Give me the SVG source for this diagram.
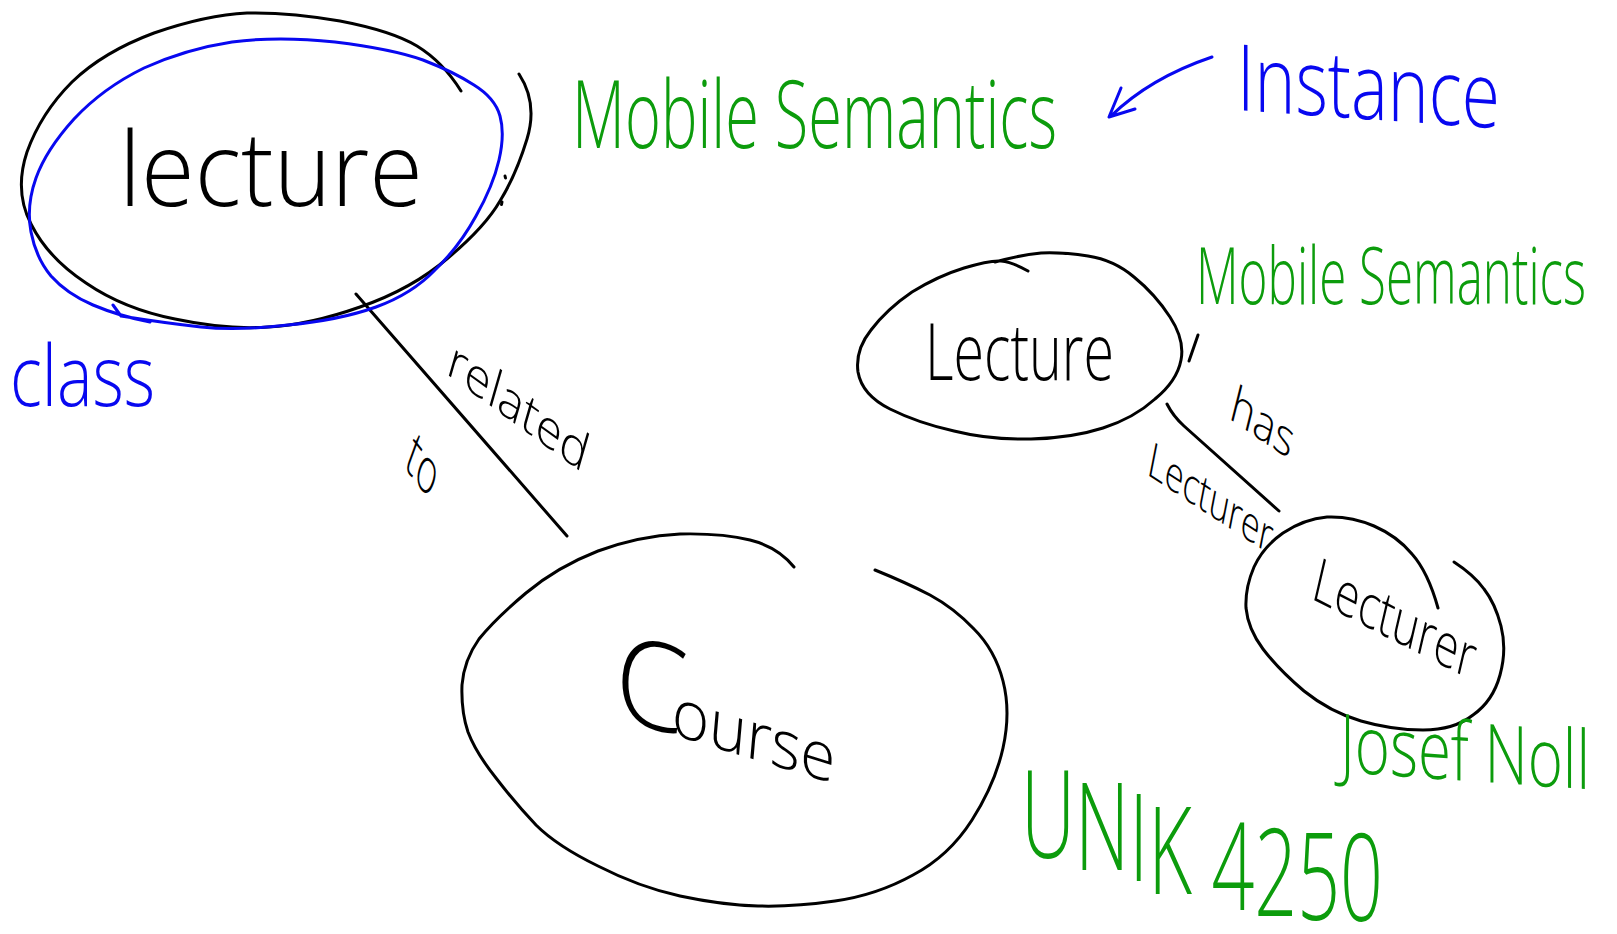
<svg xmlns="http://www.w3.org/2000/svg" width="1617" height="934" viewBox="0 0 1617 934">
  <style>
    .ink { fill: none; stroke-width: 3; stroke-linecap: round; stroke-linejoin: round; }
    .k { stroke: #000000; }
    .b { stroke: #0808f0; }
    .hand { font-family: 'Open Sans', 'Liberation Sans', sans-serif; font-weight: 300; }
    .tk { fill: #000000; }
    .tb { fill: #0808f0; }
    .tg { fill: #0c9c0c; }
  </style>
  <rect width="1617" height="934" fill="#ffffff"/>

  <!-- connectors and their labels -->
  <g id="connectors">
    <path class="ink k" d="M356,294 L567,536"/>
    <path class="ink k" d="M1167,404 Q1173,416 1184,426 L1279,511"/>
    <text class="hand tk" font-size="47" transform="translate(445,373) rotate(36) skewX(20)" textLength="170" lengthAdjust="spacingAndGlyphs">related</text>
    <text class="hand tk" font-size="48" transform="translate(403,466) rotate(52) skewX(32)" textLength="44" lengthAdjust="spacingAndGlyphs">to</text>
    <text class="hand tk" font-size="46" transform="translate(1228,418) rotate(34) skewX(20)" textLength="74" lengthAdjust="spacingAndGlyphs">has</text>
    <text class="hand tk" font-size="44" transform="translate(1146,474) rotate(33) skewX(22)" textLength="147" lengthAdjust="spacingAndGlyphs">Lecturer</text>
  </g>

  <!-- class node: Lecture -->
  <g id="node-lecture-class">
    <path class="ink k" d="M519,74 Q538,103 527,139 Q516,175 500,201 Q485,227 448,258 Q412,289 360,307 Q309,325 268,327 Q227,330 175,319 Q124,309 86,283 Q48,258 31,224 Q14,191 27,152 Q41,113 72,82 Q103,52 154,33 Q206,15 247,13 Q289,12 340,21 Q392,31 417,46 Q443,62 461,91"/>
    <path class="ink k" d="M505,176 l0.5,2 M502,202 l-0.5,2.5"/>
    <text class="hand tk" font-size="104" x="119" y="206" textLength="304" lengthAdjust="spacingAndGlyphs">lecture</text>
  </g>

  <!-- class marker -->
  <g id="class-marker">
    <path class="ink b" d="M113,305 L121,316 Q165,323 201,327 Q237,331 288,325 Q340,320 376,307 Q412,294 435,270 Q459,247 476,216 Q493,186 499,160 Q505,134 500,116 Q495,98 474,85 Q454,72 423,60 Q392,49 335,42 Q278,36 232,42 Q186,49 144,68 Q103,88 74,119 Q46,150 36,178 Q26,206 31,232 Q36,258 51,276 Q67,294 93,305 Q119,316 150,322"/>
    <text class="hand tb" font-size="84" x="10" y="406" textLength="145" lengthAdjust="spacingAndGlyphs">class</text>
  </g>

  <!-- class node: Course -->
  <g id="node-course">
    <path class="ink k" d="M794,567 Q778,547 750,540 Q722,533 680,534 Q639,536 598,551 Q557,567 526,593 Q495,619 479,639 Q464,660 462,685 Q461,711 468,732 Q476,753 496,778 Q516,804 536,825 Q557,846 598,866 Q639,887 680,896 Q722,905 758,906 Q794,907 835,901 Q877,895 913,875 Q949,856 972,820 Q995,784 1003,748 Q1011,712 1003,681 Q995,650 974,629 Q954,608 930,595 Q907,583 875,570"/>
    <text class="hand tk" transform="translate(612,716) rotate(17) skewX(12)"><tspan font-size="118">C</tspan><tspan font-size="66" dx="-12">ourse</tspan></text>
  </g>

  <!-- instance node: Lecture -->
  <g id="node-lecture-instance">
    <path class="ink k" d="M1028,271 Q1012,262 1001,261 Q990,260 964,268 Q938,276 912,292 Q887,309 871,330 Q855,350 858,372 Q862,395 890,409 Q918,423 954,431 Q990,440 1031,439 Q1072,438 1103,428 Q1134,418 1155,399 Q1177,381 1181,360 Q1185,340 1170,317 Q1155,294 1134,277 Q1114,260 1088,256 Q1062,252 1041,253 Q1020,255 995,262"/>
    <path class="ink k" d="M1189,361 L1198,335"/>
    <text class="hand tk" font-size="80" x="925" y="380" textLength="189" lengthAdjust="spacingAndGlyphs">Lecture</text>
  </g>

  <!-- instance node: Lecturer -->
  <g id="node-lecturer">
    <path class="ink k" d="M1438,608 Q1428,572 1412,554 Q1397,536 1374,526 Q1351,516 1327,517 Q1304,519 1283,533 Q1263,547 1254,567 Q1245,588 1246,608 Q1248,629 1263,649 Q1279,670 1304,691 Q1330,712 1361,721 Q1392,730 1423,730 Q1454,730 1473,715 Q1493,701 1500,675 Q1507,650 1501,626 Q1495,603 1484,589 Q1474,575 1454,562"/>
    <text class="hand tk" font-size="58" transform="translate(1310,598) rotate(27) skewX(14)" textLength="180" lengthAdjust="spacingAndGlyphs">Lecturer</text>
  </g>

  <!-- instance pointer -->
  <g id="instance-label">
    <path class="ink b" d="M1212,57 Q1150,78 1111,116 M1121,88 L1109,117 L1135,109"/>
    <text class="hand tb" font-size="92" transform="translate(1237,110) skewY(4)" textLength="263" lengthAdjust="spacingAndGlyphs">Instance</text>
  </g>

  <!-- green annotations -->
  <g id="annotations">
    <text class="hand tg" font-size="94" x="572" y="148" textLength="485" lengthAdjust="spacingAndGlyphs">Mobile Semantics</text>
    <text class="hand tg" font-size="58" transform="translate(1196,304) scale(1,1.36)" textLength="390" lengthAdjust="spacingAndGlyphs">Mobile Semantics</text>
    <text class="hand tg" font-size="57" transform="translate(1340,772) skewY(4) scale(1,1.43)" textLength="250" lengthAdjust="spacingAndGlyphs">Josef Noll</text>
    <text class="hand tg" font-size="88" transform="translate(1021,858) scale(1,1.38)" y="0 9 17 26 30 38 42 45 46" textLength="362" lengthAdjust="spacingAndGlyphs">UNIK 4250</text>
  </g>
</svg>
